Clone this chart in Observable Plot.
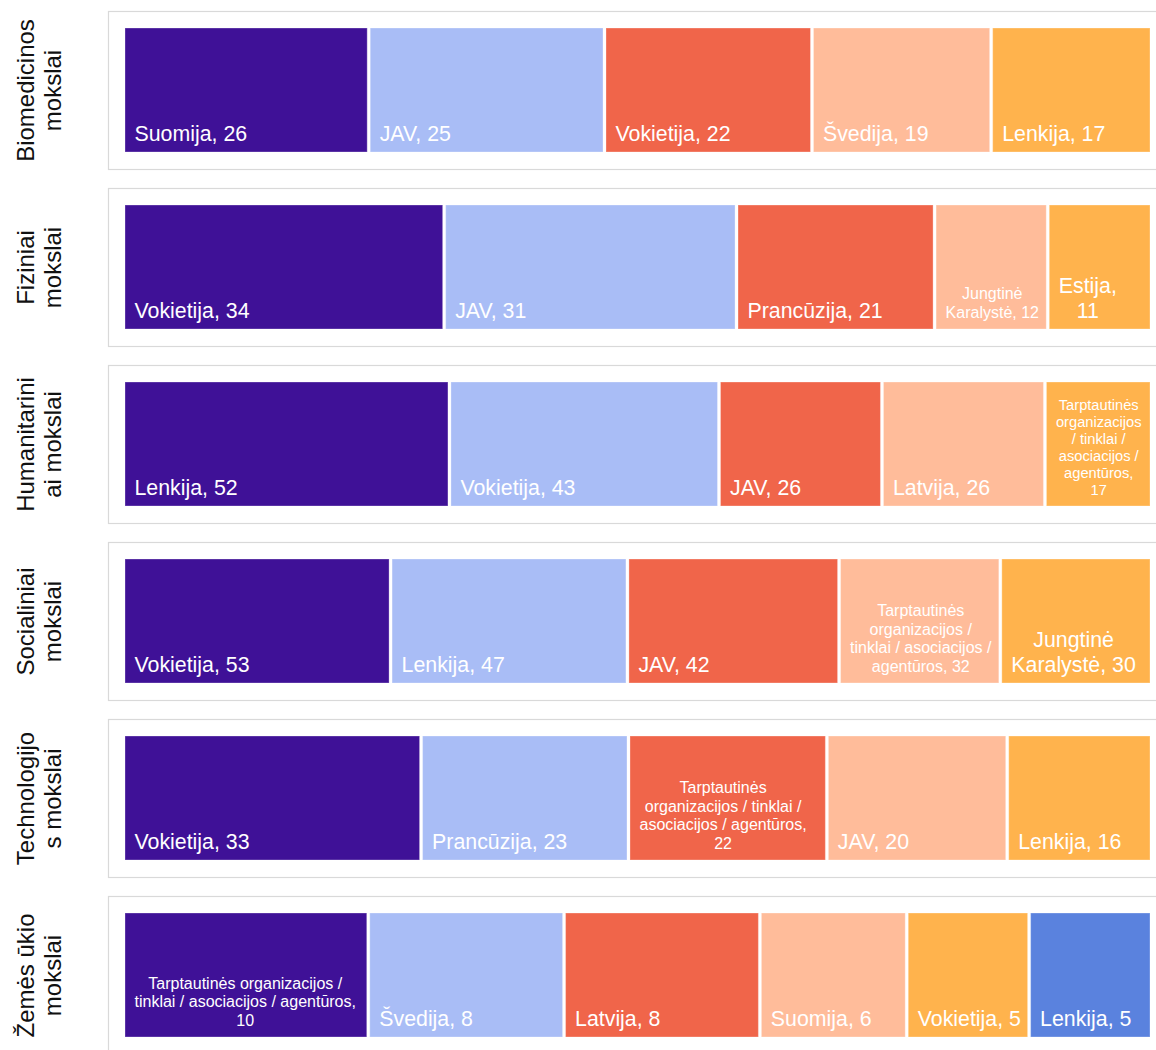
<!DOCTYPE html>
<html><head><meta charset="utf-8">
<script src="https://cdn.jsdelivr.net/npm/d3@7"></script>
<script src="https://cdn.jsdelivr.net/npm/@observablehq/plot@0.6"></script>
<style>body{margin:0;background:#fff;} svg{display:block}</style>
</head><body><div id="chart"></div>
<script>
// ---- data ----
const disciplines = ["Biomedicinos mokslai", "Fiziniai mokslai", "Humanitariniai mokslai", "Socialiniai mokslai", "Technologijos mokslai", "Žemės ūkio mokslai"];
const intl = "Tarptautinės organizacijos / tinklai / asociacijos / agentūros";
const bioCountries = ["Suomija", "JAV", "Vokietija", "Švedija", "Lenkija"];
const bioValues = [26, 25, 22, 19, 17];
const fizCountries = ["Vokietija", "JAV", "Prancūzija", "Jungtinė Karalystė", "Estija"];
const fizValues = [34, 31, 21, 12, 11];
const humCountries = ["Lenkija", "Vokietija", "JAV", "Latvija", intl];
const humValues = [52, 43, 26, 26, 17];
const socCountries = ["Vokietija", "Lenkija", "JAV", intl, "Jungtinė Karalystė"];
const socValues = [53, 47, 42, 32, 30];
const techCountries = ["Vokietija", "Prancūzija", intl, "JAV", "Lenkija"];
const techValues = [33, 23, 22, 20, 16];
const zemCountries = [intl, "Švedija", "Latvija", "Suomija", "Vokietija", "Lenkija"];
const zemValues = [10, 8, 8, 6, 5, 5];
const palette = ["#3f1197", "#a9bdf6", "#f0654a", "#ffbc9a", "#ffb34d", "#5a82de"];

// ---- layout constants ----
const W = 1156, H = 1056, mL = 108, mT = 9, insL = 17, insR = 3;
const padInner = 0.1075;
const innerW = W - mL - insL - insR;
const GAP = 3, PAD = 9, LH = 1.15, BAR_INSET = 17;
const FONT = '"Liberation Sans", Arial, sans-serif';
const sizes = [64 / 3, 16, 44 / 3];
const maxLinesBig = 2;
const step = (H - mT) / (disciplines.length - padInner);
const band = step * (1 - padInner);
const barH = band - 2 * BAR_INSET;
const maxTextH = barH - 20;

const ctx = document.createElement("canvas").getContext("2d");
function measure(t, fs) { ctx.font = `${fs}px ${FONT}`; return ctx.measureText(t).width; }

function wrap(text, maxW, fs, breakWords) {
  const words = text.split(" ");
  const lines = [];
  let cur = "";
  for (let w of words) {
    let t = cur ? cur + " " + w : w;
    if (measure(t, fs) <= maxW) { cur = t; continue; }
    if (cur) { lines.push(cur); cur = ""; }
    if (measure(w, fs) <= maxW) { cur = w; continue; }
    if (!breakWords) return null;
    while (measure(w, fs) > maxW) {
      let k = w.length - 1;
      while (k > 1 && measure(w.slice(0, k), fs) > maxW) k--;
      lines.push(w.slice(0, k));
      w = w.slice(k);
    }
    cur = w;
  }
  if (cur) lines.push(cur);
  return lines;
}

function layoutLabel(text, w) {
  const avail = w - 15;
  for (const [i, fs] of sizes.entries()) {
    const lines = wrap(text, avail, fs, false);
    if (!lines) continue;
    if (i === 0 && lines.length > maxLinesBig) continue;
    if (lines.length * fs * LH <= maxTextH) return {lines, fs};
  }
  const fs = sizes[sizes.length - 1];
  return {lines: wrap(text, avail, fs, true), fs};
}

const panels = [[bioCountries, bioValues], [fizCountries, fizValues], [humCountries, humValues],
                [socCountries, socValues], [techCountries, techValues], [zemCountries, zemValues]];
const segs = [];
panels.forEach(([names, vals], i) => {
  const total = d3.sum(vals);
  let cum = 0;
  names.forEach((name, k) => {
    const v = vals[k];
    const x1 = cum / total, x2 = (cum + v) / total;
    cum += v;
    const w = (x2 - x1) * innerW - GAP;
    const lay = layoutLabel(`${name}, ${v}`, w);
    const blockW = d3.max(lay.lines, l => measure(l, lay.fs));
    segs.push({discipline: disciplines[i], rank: k, x1, x2,
      lx: x1 + (PAD + blockW / 2) / innerW, text: lay.lines.join("\n"), fs: lay.fs});
  });
});

const facetLabels = disciplines.map(d => ({discipline: d, text: wrap(d, band - 14, 24, true).join("\n")}));

const chart = Plot.plot({
  width: W, height: H,
  marginLeft: mL, marginTop: mT, marginRight: 0, marginBottom: 0,
  style: {fontFamily: FONT, background: "white"},
  x: {domain: [0, 1], axis: null, insetLeft: insL, insetRight: insR},
  fy: {domain: disciplines, axis: null, paddingInner: padInner, paddingOuter: 0, label: null},
  color: {type: "ordinal", domain: d3.range(palette.length), range: palette},
  marks: [
    Plot.frame({stroke: "#d9d9d9", strokeWidth: 1.2, insetRight: -3}),
    Plot.barX(segs, {fy: "discipline", x1: "x1", x2: "x2", fill: "rank",
      insetTop: BAR_INSET, insetBottom: BAR_INSET, insetRight: GAP,
      stroke: "white", strokeOpacity: 0.3, strokeWidth: 1}),
    Plot.text(segs, {fy: "discipline", x: "lx", text: "text", fontSize: "fs",
      frameAnchor: "bottom", dy: -(BAR_INSET + 12), lineAnchor: "bottom", lineHeight: LH,
      textAnchor: "middle", fill: "white", fontFamily: FONT}),
    Plot.text(facetLabels, {fy: "discipline", text: "text", frameAnchor: "left", dx: -70,
      rotate: -90, fontSize: 24, lineHeight: LH, textAnchor: "middle", lineAnchor: "middle",
      fill: "#111", fontFamily: FONT})
  ]
});
document.getElementById("chart").appendChild(chart);
</script>
</body></html>
